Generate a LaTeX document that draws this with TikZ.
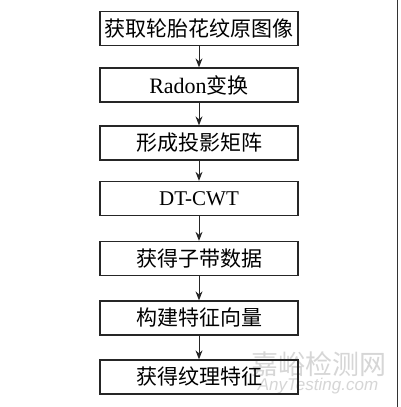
\documentclass[tikz,border=0pt]{standalone}
\usepackage{fontspec}
\setmainfont{Liberation Serif}
\newfontfamily\cjk{Noto Sans CJK SC}
\newfontfamily\wmsans{Liberation Sans}
\usetikzlibrary{arrows.meta}
\begin{document}
\begin{tikzpicture}[x=1pt,y=-1pt,
  stepbox/.style={draw=black!85, line width=1.3pt, minimum width=198pt, minimum height=34pt,
    inner sep=0pt, font=\fontsize{21}{21}\selectfont\cjk},
  flow/.style={draw=black!85, line width=1pt, -{Stealth[length=9pt,width=7pt]}},
  wm/.style={text=black!16, inner sep=0pt}]
\useasboundingbox (0,0) rectangle (400,407);
\fill[white] (0,0) rectangle (400,407);
\node[wm, font=\fontsize{27}{27}\selectfont\cjk] (w1) at (319,364) {嘉峪检测网};
\node[wm, font=\fontsize{17}{17}\selectfont\wmsans\itshape] (w2) at (318,386) {AnyTesting.com};
\node[stepbox] (b1) at (199,28.5) {获取轮胎花纹原图像};
\node[stepbox] (b2) at (199,85) {{\rmfamily\fontsize{22}{22}\selectfont Radon}变换};
\node[stepbox] (b3) at (199,143) {形成投影矩阵};
\node[stepbox] (b4) at (199,198.5) {\rmfamily\fontsize{21}{21}\selectfont DT-CWT};
\node[stepbox] (b5) at (199,258.5) {获得子带数据};
\node[stepbox] (b6) at (199,318) {构建特征向量};
\node[stepbox] (b7) at (199,377) {获得纹理特征};
\foreach \a/\b in {b1/b2,b2/b3,b3/b4,b4/b5,b5/b6,b6/b7}
  \draw[flow] (\a) -- (\b);
\coordinate (e1) at (397.5,0);
\coordinate (e2) at (397.5,407);
\draw[black!80, line width=1pt] (e1) -- (e2);
\end{tikzpicture}
\end{document}
